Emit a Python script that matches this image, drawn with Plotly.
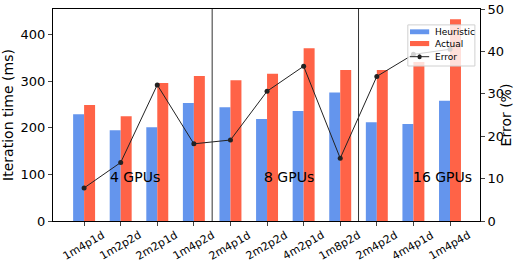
import plotly.graph_objects as go

categories = ["1m4p1d", "1m2p2d", "2m2p1d", "1m4p2d", "2m4p1d", "2m2p2d",
              "4m2p1d", "1m8p2d", "2m4p2d", "4m4p1d", "1m4p4d"]
heuristic = [229, 195, 201, 253, 244, 219, 236, 276, 212, 208, 258]
actual = [249, 225, 296, 311, 302, 316, 371, 324, 324, 341, 433]
error = [7.8, 13.8, 32.1, 18.2, 19.1, 30.6, 36.5, 14.8, 34.1, 39.3, 40.5]
group_sizes = [4, 4, 3]
group_labels = ["4 GPUs", "8 GPUs", "16 GPUs"]
group_label_x = [1.4, 5.6, 9.8]
group_label_y = 95
series_names = ["Heuristic", "Actual", "Error"]
colors = ["#6495ED", "#FF6347", "#222222"]

idx = list(range(len(categories)))
fig = go.Figure()
fig.add_trace(go.Bar(x=[i - 0.15 for i in idx], y=heuristic, width=0.3, name=series_names[0],
                     marker=dict(color=colors[0], line=dict(width=0)), showlegend=False))
fig.add_trace(go.Bar(x=[i + 0.15 for i in idx], y=actual, width=0.3, name=series_names[1],
                     marker=dict(color=colors[1], line=dict(width=0)), showlegend=False))
fig.add_trace(go.Scatter(x=idx, y=error, name=series_names[2], yaxis="y2", mode="lines+markers",
                         line=dict(color=colors[2], width=1),
                         marker=dict(color=colors[2], size=5), showlegend=False))

shapes = []
pos = 0
for s in group_sizes[:-1]:
    pos += s
    shapes.append(dict(type="line", xref="x", yref="paper", x0=pos - 0.5, x1=pos - 0.5,
                       y0=0, y1=1, line=dict(color="#333333", width=1)))

# compact legend (paper coordinates)
shapes.append(dict(type="rect", xref="paper", yref="paper", x0=0.831, x1=0.988,
                   y0=0.731, y1=0.925, fillcolor="rgba(255,255,255,0.8)",
                   line=dict(color="#d0d0d0", width=1), layer="above"))
shapes.append(dict(type="rect", xref="paper", yref="paper", x0=0.836, x1=0.881,
                   y0=0.881, y1=0.904, fillcolor=colors[0], line=dict(width=0), layer="above"))
shapes.append(dict(type="rect", xref="paper", yref="paper", x0=0.836, x1=0.881,
                   y0=0.825, y1=0.849, fillcolor=colors[1], line=dict(width=0), layer="above"))
shapes.append(dict(type="line", xref="paper", yref="paper", x0=0.836, x1=0.881,
                   y0=0.775, y1=0.775, line=dict(color=colors[2], width=1), layer="above"))
shapes.append(dict(type="circle", xref="paper", yref="paper", x0=0.8535, x1=0.8635,
                   y0=0.763, y1=0.787, fillcolor=colors[2], line=dict(width=0), layer="above"))
legend_text_y = [0.892, 0.835, 0.775]

annotations = [dict(x=x, y=group_label_y, xref="x", yref="y", text=t, showarrow=False,
                    font=dict(size=14, color="black"))
               for x, t in zip(group_label_x, group_labels)]
annotations += [dict(x=i, y=0, xref="x", yref="paper", text=c, showarrow=False,
                     textangle=-30, xanchor="center", yanchor="top", yshift=-5,
                     font=dict(size=11, color="black"))
                for i, c in zip(idx, categories)]
annotations += [dict(x=0.889, y=ty, xref="paper", yref="paper", text=n, showarrow=False,
                     xanchor="left", yanchor="middle", font=dict(size=9, color="black"))
                for n, ty in zip(series_names, legend_text_y)]

fig.update_layout(
    width=514, height=267,
    margin=dict(l=53, r=34, t=9, b=46),
    plot_bgcolor="white", paper_bgcolor="white",
    font=dict(family="DejaVu Sans", color="black"),
    barmode="overlay",
    showlegend=False,
    xaxis=dict(tickmode="array", tickvals=idx, showticklabels=False,
               range=[-0.85, len(categories) - 1 + 0.82], showline=True, mirror=True,
               linecolor="black", linewidth=1, ticks="outside", ticklen=4,
               showgrid=False, zeroline=False, automargin=False),
    yaxis=dict(title=dict(text="Iteration time (ms)", font=dict(size=14), standoff=9),
               range=[0, 455], tickvals=[0, 100, 200, 300, 400], showline=True,
               linecolor="black", linewidth=1, ticks="outside", ticklen=4,
               tickfont=dict(size=13), showgrid=False, zeroline=False, automargin=False),
    yaxis2=dict(title=dict(text="Error (%)", font=dict(size=14), standoff=4),
                overlaying="y", side="right", range=[0, 50],
                tickvals=[0, 10, 20, 30, 40, 50], showline=True,
                linecolor="black", linewidth=1, ticks="outside", ticklen=4,
                tickfont=dict(size=13), showgrid=False, zeroline=False, automargin=False),
    shapes=shapes,
    annotations=annotations,
)
fig.write_html("out.html", config={"displayModeBar": False},
               post_script="document.body.style.margin='0';")
